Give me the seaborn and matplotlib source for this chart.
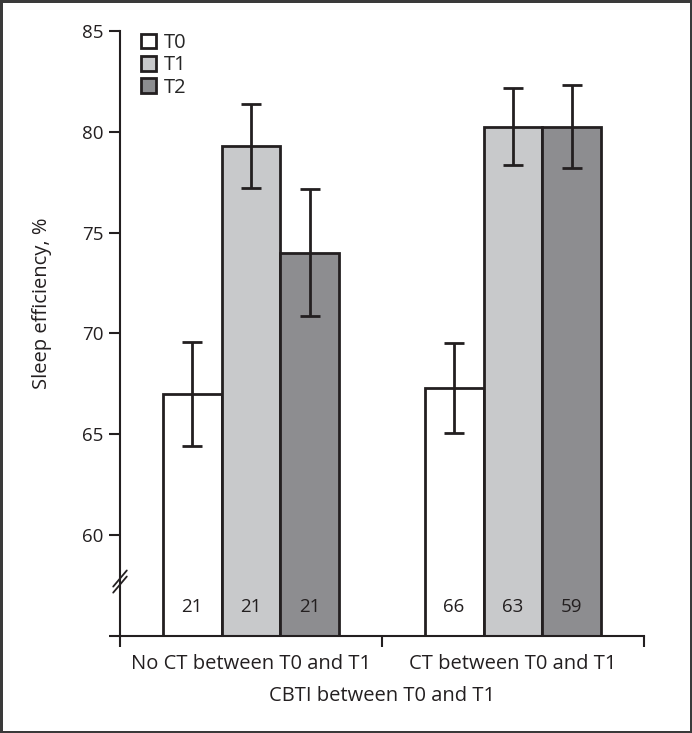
import pandas as pd
import seaborn as sns
import numpy as np
import matplotlib.pyplot as plt
from matplotlib.patches import Patch
import matplotlib.transforms as mtransforms

# values
groups = ["No CT between T0 and T1", "CT between T0 and T1"]
timepoints = ["T0", "T1", "T2"]
mean_no_ct = [67.0, 79.3, 74.0]
mean_ct = [67.3, 80.25, 80.25]
err_no_ct = [2.6, 2.1, 3.15]
err_ct = [2.25, 1.9, 2.05]
n_no_ct = [21, 21, 21]
n_ct = [66, 63, 59]
colors = ["#ffffff", "#c8c9cb", "#8c8d90"]

edge = "#231f20"
txt = 14.5   # words
num = 13.5   # digits

sns.set_style("white")
plt.rcParams["font.family"] = ["Open Sans", "DejaVu Sans"]

df = pd.DataFrame({
    "group": np.repeat(groups, 3),
    "time": timepoints * 2,
    "mean": mean_no_ct + mean_ct,
    "err": err_no_ct + err_ct,
    "n": n_no_ct + n_ct,
})

fig = plt.figure(figsize=(6.92, 7.33), dpi=100, linewidth=2.5, edgecolor="#3a3a3a")
ax = fig.add_axes([120 / 692, (733 - 636) / 733, 524 / 692, 605 / 733])

sns.barplot(data=df, x="group", y="mean", hue="time", order=groups, hue_order=timepoints,
            palette=colors, errorbar=None, width=0.675, edgecolor=edge, linewidth=2,
            legend=False, ax=ax)

# error bars and counts placed on the bars seaborn drew
bars = sorted(ax.patches, key=lambda p: p.get_x())
order = df.set_index(["group", "time"])
for bar, (g, t) in zip(bars, [(g, t) for g in groups for t in timepoints]):
    row = order.loc[(g, t)]
    cx = bar.get_x() + bar.get_width() / 2
    ax.errorbar(cx, row["mean"], yerr=row["err"], fmt="none", ecolor=edge,
                elinewidth=2, capsize=7, capthick=2, zorder=5)
    ax.text(cx, 56.2, f"{int(row['n'])}", ha="center", va="baseline",
            fontsize=num, color="#231f20")

ax.set_ylim(55, 85)
ax.set_xlim(-0.5, 1.5)
ax.set_yticks([55, 60, 65, 70, 75, 80, 85])
ax.set_yticklabels(["", "60", "65", "70", "75", "80", "85"])
ax.set_xticks([0, 1])
ax.set_xticklabels(groups)
ax.set_xticks([-0.5, 0.5, 1.5], minor=True)
ax.tick_params(axis="x", which="major", length=0, pad=13, labelsize=txt, colors="#231f20")
ax.tick_params(axis="x", which="minor", length=8, width=1.5, direction="out", color="#231f20", bottom=True)
ax.tick_params(axis="y", length=8, width=1.5, direction="out", pad=4, labelsize=num,
               colors="#231f20", left=True)

sns.despine(ax=ax)
for s in ["left", "bottom"]:
    ax.spines[s].set_linewidth(1.5)
    ax.spines[s].set_color("#231f20")

ax.set_ylabel("Sleep efficiency, %", fontsize=txt, color="#231f20")
ax.yaxis.set_label_coords(-68 / 524, 0.55)
ax.set_xlabel("CBTI between T0 and T1", fontsize=txt, color="#231f20")
ax.xaxis.set_label_coords(0.5, -50 / 605)

# axis break marks
trans = mtransforms.blended_transform_factory(ax.transAxes, ax.transData)
for off in [0.0, -0.3]:
    ax.plot([-0.013, 0.013], [57.45 + off, 58.25 + off], color="#231f20", lw=1.3,
            transform=trans, clip_on=False)

handles = [Patch(facecolor=c, edgecolor=edge, linewidth=2) for c in colors]
ax.legend(handles, timepoints, loc="upper left", bbox_to_anchor=(0.04, 1.0 - 2 / 605), frameon=False,
          fontsize=txt, handlelength=0.75, handleheight=0.75, handletextpad=0.4,
          labelspacing=0.12, borderpad=0, borderaxespad=0)

fig.savefig("out.png", dpi=100)
